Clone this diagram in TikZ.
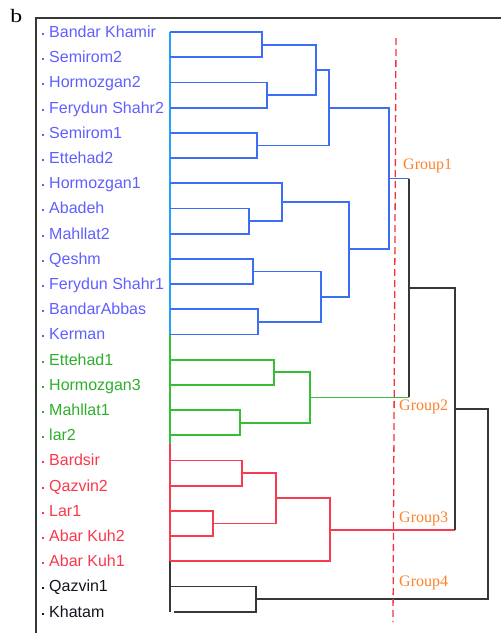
\documentclass[tikz,border=0pt]{standalone}
\usepackage{fontspec}
\setmainfont{Liberation Serif}
\newfontfamily\labelfont{Liberation Sans}

\definecolor{axisblue}{RGB}{35,160,250}
\definecolor{treeblue}{RGB}{60,110,245}
\definecolor{txtblue}{RGB}{95,95,255}
\definecolor{treegreen}{RGB}{55,190,55}
\definecolor{txtgreen}{RGB}{45,175,45}
\definecolor{treered}{RGB}{245,60,80}
\definecolor{txtred}{RGB}{250,55,75}
\definecolor{treeblack}{RGB}{55,55,55}
\definecolor{txtblack}{RGB}{20,20,30}
\definecolor{grouporange}{RGB}{255,130,40}
\definecolor{cutred}{RGB}{245,50,60}

\begin{document}
\begin{tikzpicture}[x=1pt,y=-1pt,
  leaflabel/.style={anchor=base west, inner sep=0pt, font=\labelfont\fontsize{16}{16}\selectfont},
  grouplabel/.style={anchor=west, inner sep=0pt, text=grouporange, font=\fontsize{16}{16}\selectfont},
  br/.style={line width=1.8pt},
  bluebr/.style={br, draw=treeblue},
  greenbr/.style={br, draw=treegreen},
  redbr/.style={br, draw=treered},
  blackbr/.style={br, draw=treeblack}]
\useasboundingbox (0,0) rectangle (501,633);

% panel letter and frame
\node[anchor=base west, inner sep=0pt, xscale=1.25, font=\fontsize{19}{19}\selectfont] (panel) at (10,22.5) {b};
\draw[treeblack, line width=1.5pt] (501,18) -- (36,18) -- (36,633);

% leaves: label nodes and the start point of each leaf branch
\foreach \i/\txt/\col in {
  1/Bandar Khamir/txtblue, 2/Semirom2/txtblue, 3/Hormozgan2/txtblue,
  4/Ferydun Shahr2/txtblue, 5/Semirom1/txtblue, 6/Ettehad2/txtblue,
  7/Hormozgan1/txtblue, 8/Abadeh/txtblue, 9/Mahllat2/txtblue,
  10/Qeshm/txtblue, 11/Ferydun Shahr1/txtblue, 12/BandarAbbas/txtblue,
  13/Kerman/txtblue, 14/Ettehad1/txtgreen, 15/Hormozgan3/txtgreen,
  16/Mahllat1/txtgreen, 17/lar2/txtgreen, 18/Bardsir/txtred,
  19/Qazvin2/txtred, 20/Lar1/txtred, 21/Abar Kuh2/txtred,
  22/Abar Kuh1/txtred, 23/Qazvin1/txtblack, 24/Khatam/txtblack} {
  \pgfmathsetmacro\yy{32+25.2*(\i-1)}
  \node[leaflabel, text=\col] (t\i) at (42,\yy+5.5)
    {\rule[2.5pt]{2pt}{2pt}\hspace{5pt}\txt};
  \coordinate (L\i) at (170,\yy);
}
\coordinate (L24) at (174,611.6);

% leaf axis
\draw[br, draw=axisblue] (170,32) -- (170,334.4);
\draw[greenbr] (170,334.4) -- (170,444);
\draw[redbr] (170,444) -- (170,561.2);
\draw[blackbr] (170,561.2) -- (170,611.6);

% merge points
\coordinate (ma) at (262,44.6);
\coordinate (mb) at (267,95);
\coordinate (mc) at (316,69.8);
\coordinate (md) at (257,145.4);
\coordinate (me) at (329,107.6);
\coordinate (mf) at (249,221);
\coordinate (mg) at (282,202.1);
\coordinate (mh) at (253,271.4);
\coordinate (mi) at (258,321.8);
\coordinate (mj) at (321,296.6);
\coordinate (mk) at (349,249.35);
\coordinate (ml) at (389,178.5);
\coordinate (mn) at (274,372.2);
\coordinate (mo) at (240,422.6);
\coordinate (mp) at (310,397.4);
\coordinate (mq) at (409,288);
\coordinate (mr) at (242,473);
\coordinate (ms) at (213,523.4);
\coordinate (mt) at (276,498.2);
\coordinate (mu) at (330,529.7);
\coordinate (mv) at (455,408.85);
\coordinate (mw) at (256,599);
\coordinate (mroot) at (488,503.9);

% Group1 clades
\draw[bluebr] (L1) -| (ma) |- (L2);
\draw[bluebr] (L3) -| (mb) |- (L4);
\draw[bluebr] (ma) -| (mc) |- (mb);
\draw[bluebr] (L5) -| (md) |- (L6);
\draw[bluebr] (mc) -| (me) |- (md);
\draw[bluebr] (L8) -| (mf) |- (L9);
\draw[bluebr] (L7) -| (mg) |- (mf);
\draw[bluebr] (L10) -| (mh) |- (L11);
\draw[bluebr] (L12) -| (mi) |- (L13);
\draw[bluebr] (mh) -| (mj) |- (mi);
\draw[bluebr] (mg) -| (mk) |- (mj);
\draw[bluebr] (me) -| (ml) |- (mk);

% Group2 clades
\draw[greenbr] (L14) -| (mn) |- (L15);
\draw[greenbr] (L16) -| (mo) |- (L17);
\draw[greenbr] (mn) -| (mp) |- (mo);

% Group1 + Group2
\draw[bluebr] (ml) -- (ml -| mq);
\draw[greenbr] (mp) -- (mp -| mq);
\draw[blackbr] (ml -| mq) -- (mp -| mq);

% Group3 clades
\draw[redbr] (L18) -| (mr) |- (L19);
\draw[redbr] (L20) -| (ms) |- (L21);
\draw[redbr] (mr) -| (mt) |- (ms);
\draw[redbr] (mt) -| (mu) |- (L22);

% Groups 1-2 + Group3
\draw[blackbr] (mq) -| (mv);
\draw[redbr] (mu) -- (mu -| mv);
\draw[blackbr] (mq -| mv) -- (mu -| mv);

% Group4 and root
\draw[blackbr] (L23) -| (mw) |- (L24);
\draw[blackbr] (mv) -| (mroot) |- (mw);

% cut line and group labels
\draw[cutred, line width=1.3pt, dash pattern=on 7pt off 4pt] (396,38) -- (393,622);
\node[grouplabel] (g1) at (403,166) {Group1};
\node[grouplabel] (g2) at (399,407) {Group2};
\node[grouplabel] (g3) at (399,519) {Group3};
\node[grouplabel] (g4) at (399,583) {Group4};
\end{tikzpicture}
\end{document}
